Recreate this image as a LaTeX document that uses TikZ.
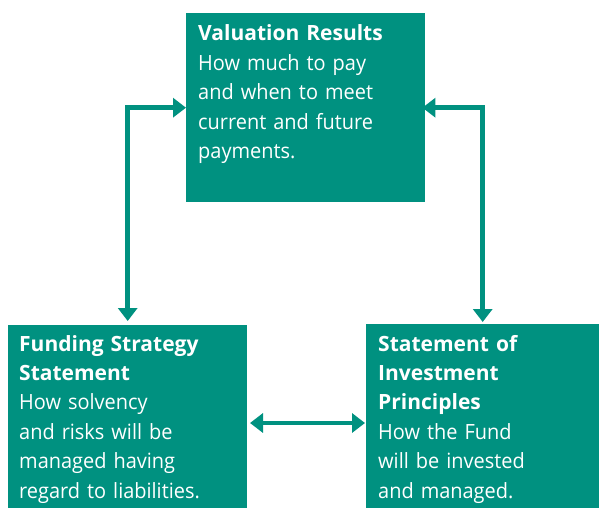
\documentclass[tikz,border=0pt]{standalone}
\usepackage{fontspec}
\setmainfont{Open Sans}[FakeStretch=0.95, BoldFeatures={FakeStretch=1.0}]
\usetikzlibrary{arrows.meta,calc}
\definecolor{teal1}{RGB}{0,145,128}
\tikzset{
  boxnode/.style={fill=teal1, draw=none, inner sep=0pt, anchor=north west},
  txt/.style={text=white, inner sep=0pt, anchor=base west, align=left, text width=230pt,
    font=\fontsize{21}{29.4}\selectfont},
  conn/.style={draw=teal1, line width=4.5pt, {Triangle[length=13pt,width=19pt]}-{Triangle[length=13pt,width=19pt]}}
}
\begin{document}
\begin{tikzpicture}[x=1pt,y=-1pt]
\useasboundingbox (0,0) rectangle (599,508);
\node[boxnode, minimum width=239pt, minimum height=189pt] (vr) at (186,13) {};
\node[boxnode, minimum width=239pt, minimum height=183pt] (fs) at (8,325) {};
\node[boxnode, minimum width=233pt, minimum height=184pt] (sip) at (366,324) {};
\node[txt] (vrt) at (198,41) {\textbf{Valuation Results}\\How much to pay\\and when to meet\\current and future\\payments.};
\node[txt] (fst) at (19,351) {\textbf{Funding Strategy}\\\textbf{Statement}\\How solvency\\and risks will be\\managed having\\regard to liabilities.};
\node[txt] (sipt) at (378,351) {\textbf{Statement of}\\\textbf{Investment}\\\textbf{Principles}\\How the Fund\\will be invested\\and managed.};
\coordinate (fsa) at (250,423);
\coordinate (sipa) at (365,423);
\draw[conn, shorten >=4pt] (vr.west) -| (fs.north);
\draw[conn, shorten <=-3pt, shorten >=2pt] (vr.east) -| (sip.north);
\draw[conn] (fsa) -- (sipa);
\end{tikzpicture}
\end{document}
